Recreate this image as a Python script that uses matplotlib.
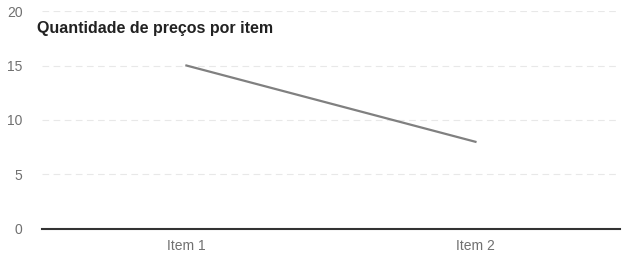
import matplotlib.pyplot as plt

# dados
itens = ['Item 1', 'Item 2']
quantidade = [15, 8]
yticks = [0, 5, 10, 15, 20]

plt.rcParams['font.family'] = ['Liberation Sans', 'DejaVu Sans']

fig = plt.figure(figsize=(6.25, 2.62), dpi=100)
ax = fig.add_axes([0.067, 0.126, 0.925, 0.832])

ax.plot(range(len(itens)), quantidade, color='#808080', linewidth=1.6)

ax.set_xlim(-0.5, len(itens) - 0.5)
ax.set_ylim(0, 20)
ax.set_yticks(yticks)
ax.set_xticks(range(len(itens)))
ax.set_xticklabels(itens)

# grade bem clara
ax.grid(axis='y', color='#e8e8e8', linestyle=(0, (6, 4)), linewidth=0.8)
ax.set_axisbelow(True)
for s in ['top', 'right', 'left']:
    ax.spines[s].set_visible(False)
ax.spines['bottom'].set_color('#333333')
ax.spines['bottom'].set_linewidth(1.5)

ax.tick_params(axis='both', length=0, labelsize=10, labelcolor='#707070')
ax.tick_params(axis='y', pad=14)
ax.tick_params(axis='x', pad=7)

fig.text(0.059, 0.893, 'Quantidade de preços por item', fontsize=11.5,
         fontweight='bold', color='#222222', va='center', ha='left')

fig.savefig('out.png', dpi=100)
